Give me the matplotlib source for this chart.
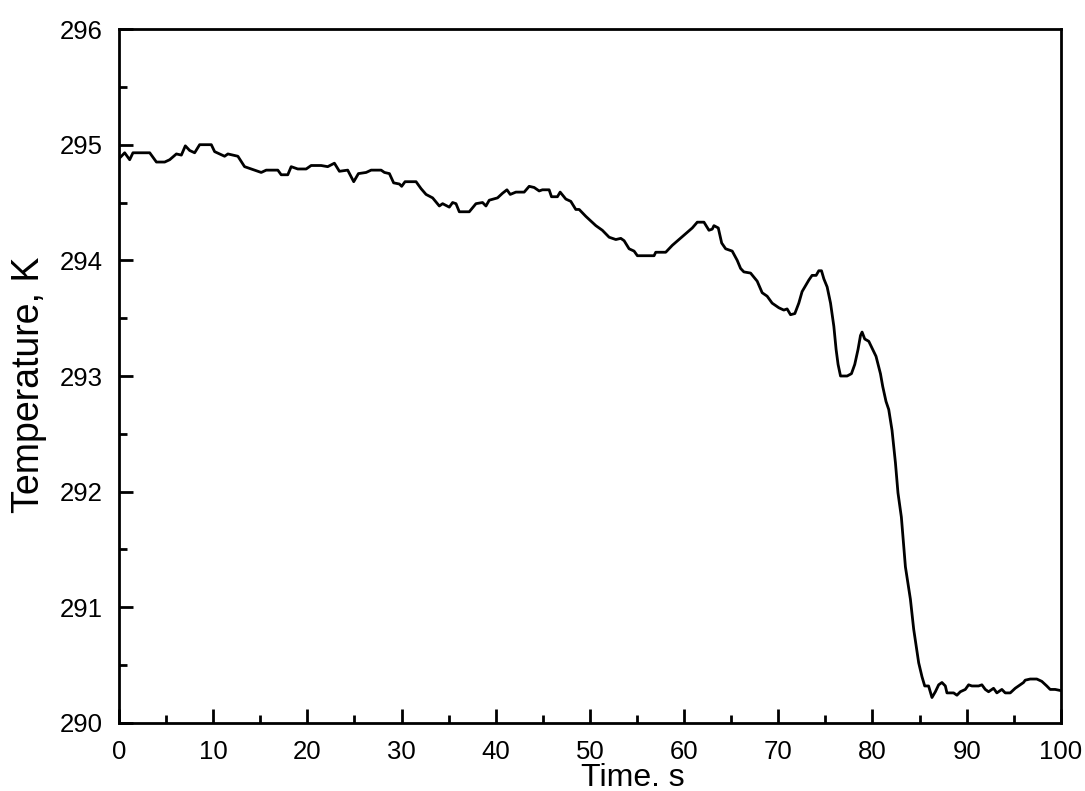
import numpy as np
import matplotlib
matplotlib.use("Agg")
import matplotlib.pyplot as plt
from matplotlib.ticker import MultipleLocator

plt.rcParams['font.family'] = ['Liberation Sans', 'DejaVu Sans']

# Data (time in s, temperature in K)
time_s = [0.0, 0.25, 0.6, 1.13, 1.48, 3.26, 3.97, 4.85, 5.38, 6.09, 6.62, 7.04, 7.50, 8.03, 8.56, 9.80,
          10.15, 11.21, 11.56, 12.62, 13.33, 14.04, 15.10, 15.63, 16.86, 17.22, 17.92, 18.28, 18.98, 19.87,
          20.40, 21.46, 22.16, 22.87, 23.40, 24.28, 24.92, 25.42, 26.24, 26.77, 27.83, 28.18, 28.71, 29.16,
          29.77, 30.01, 30.37, 31.54, 32.07, 32.60, 33.30, 34.01, 34.36, 35.07, 35.42, 35.78, 36.13, 37.19,
          37.90, 38.60, 38.96, 39.31, 40.19, 40.72, 41.19, 41.54, 42.14, 43.02, 43.55, 44.08, 44.61, 44.96,
          45.67, 45.92, 46.55, 46.84, 47.44, 47.97, 48.50, 48.86, 49.57, 50.63, 51.32, 52.04, 52.75, 53.28,
          53.63, 54.16, 54.69, 55.04, 56.81, 56.99, 58.05, 58.75, 59.46, 60.17, 60.87, 61.40, 62.11, 62.64,
          62.99, 63.17, 63.63, 63.99, 64.41, 65.11, 65.64, 66.00, 66.35, 67.06, 67.76, 68.29, 68.82, 69.35,
          70.06, 70.59, 70.94, 71.30, 71.76, 72.18, 72.53, 73.25, 73.59, 74.02, 74.30, 74.59, 74.84, 75.19,
          75.55, 75.90, 76.14, 76.35, 76.61, 77.31, 77.77, 78.12, 78.47, 78.73, 78.90, 79.18, 79.61, 79.96,
          80.38, 80.85, 81.09, 81.44, 81.73, 82.08, 82.44, 82.71, 83.07, 83.50, 84.03, 84.38, 84.91, 85.26,
          85.55, 85.96, 86.32, 86.68, 87.03, 87.38, 87.74, 87.91, 88.62, 88.97, 89.33, 89.86, 90.21, 90.56,
          91.27, 91.62, 91.98, 92.33, 92.86, 93.21, 93.74, 94.10, 94.63, 95.16, 95.69, 96.04, 96.22, 96.75,
          97.45, 97.98, 98.51, 98.87, 99.40, 100.0]

temp_k = [294.88, 294.90, 294.93, 294.87, 294.93, 294.93, 294.85, 294.85, 294.87, 294.92, 294.91, 294.99,
          294.95, 294.93, 295.00, 295.00, 294.94, 294.90, 294.92, 294.90, 294.81, 294.79, 294.76, 294.78,
          294.78, 294.74, 294.74, 294.81, 294.79, 294.79, 294.82, 294.82, 294.81, 294.84, 294.77, 294.78,
          294.68, 294.75, 294.76, 294.78, 294.78, 294.76, 294.75, 294.67, 294.66, 294.64, 294.68, 294.68,
          294.62, 294.57, 294.54, 294.47, 294.49, 294.46, 294.50, 294.49, 294.42, 294.42, 294.49, 294.50,
          294.47, 294.52, 294.54, 294.58, 294.61, 294.57, 294.59, 294.59, 294.64, 294.63, 294.60, 294.61,
          294.61, 294.55, 294.55, 294.59, 294.53, 294.51, 294.44, 294.44, 294.38, 294.30, 294.26, 294.20,
          294.18, 294.19, 294.17, 294.10, 294.08, 294.04, 294.04, 294.07, 294.07, 294.13, 294.18, 294.23,
          294.28, 294.33, 294.33, 294.26, 294.27, 294.30, 294.28, 294.15, 294.10, 294.08, 294.00, 293.93,
          293.90, 293.89, 293.82, 293.72, 293.69, 293.63, 293.59, 293.57, 293.58, 293.53, 293.54, 293.63,
          293.73, 293.83, 293.87, 293.87, 293.91, 293.91, 293.84, 293.77, 293.63, 293.43, 293.23, 293.10,
          293.00, 293.00, 293.02, 293.10, 293.23, 293.35, 293.38, 293.32, 293.30, 293.24, 293.17, 293.02,
          292.91, 292.78, 292.71, 292.53, 292.25, 291.99, 291.78, 291.35, 291.07, 290.81, 290.52, 290.40,
          290.32, 290.32, 290.22, 290.27, 290.33, 290.35, 290.32, 290.26, 290.26, 290.24, 290.27, 290.29,
          290.33, 290.32, 290.32, 290.33, 290.29, 290.27, 290.30, 290.26, 290.29, 290.26, 290.26, 290.30,
          290.33, 290.35, 290.37, 290.38, 290.38, 290.36, 290.32, 290.29, 290.29, 290.28]

x_ticks = [0, 10, 20, 30, 40, 50, 60, 70, 80, 90, 100]
y_ticks = [290, 291, 292, 293, 294, 295, 296]

fig = plt.figure(figsize=(10.85, 7.91), dpi=100)
ax = fig.add_axes([0.1097, 0.086, 0.868, 0.8773])

ax.plot(time_s, temp_k, color='black', linewidth=2.0)

ax.set_xlim(0, 100)
ax.set_ylim(290, 296)
ax.set_xticks(x_ticks)
ax.set_yticks(y_ticks)
ax.xaxis.set_minor_locator(MultipleLocator(5))
ax.yaxis.set_minor_locator(MultipleLocator(0.5))

# ticks inside, only on left and bottom
ax.tick_params(which='major', direction='in', length=10, width=2, labelsize=18.5, pad=12)
ax.tick_params(which='minor', direction='in', length=6, width=2)
for side in ax.spines.values():
    side.set_linewidth(2)

# axis titles sit a bit off-centre in the original
ax.set_xlabel("Time. s", fontsize=23)
ax.xaxis.set_label_coords(0.546, -0.091)
ax.xaxis.label.set_va('baseline')
ax.set_ylabel("Temperature, K", fontsize=27)
ax.yaxis.set_label_coords(-0.077, 0.487)

fig.savefig("out.png", dpi=100)
